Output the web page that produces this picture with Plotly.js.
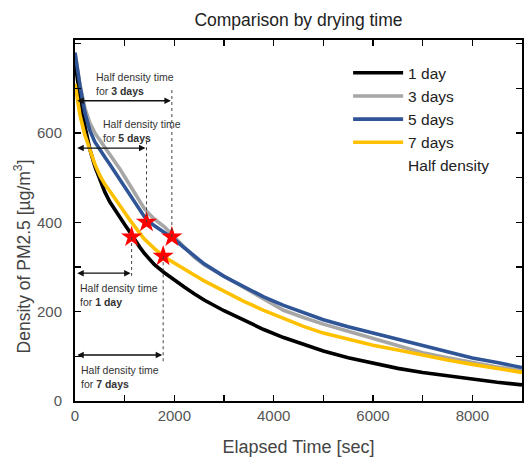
<!DOCTYPE html>
<html>
<head>
<meta charset="utf-8">
<script src="https://cdn.plot.ly/plotly-3.0.1.min.js"></script>
<style>html,body{margin:0;padding:0;background:#fff;}#chart{width:525px;height:457px;}</style>
</head>
<body>
<div id="chart"></div>
<script>
// Elapsed time [sec] sample points
var times = [0, 100, 200, 300, 400, 500, 600, 700, 800, 900, 1000, 1100, 1200, 1300, 1400, 1500, 1600, 1800, 2000, 2200, 2400, 2600, 3000, 3400, 3800, 4200, 4600, 5000, 5500, 6000, 6500, 7000, 7500, 8000, 8500, 9000];

// PM2.5 density [ug/m3] per drying time
var day1  = [760, 680, 615, 563, 525, 494, 468, 446, 428, 411, 395, 379, 361, 345, 330, 316, 305, 287, 270, 255, 240, 226, 202, 180, 160, 142, 126, 112, 97, 84, 73, 64, 56, 48, 42, 36];
var days3 = [778, 708, 655, 622, 600, 584, 569, 554, 538, 520, 502, 484, 466, 447, 430, 418, 407, 390, 367, 344, 322, 305, 279, 253, 228, 203, 187, 172, 156, 140, 122, 108, 97, 86, 76, 68];
var days5 = [780, 705, 645, 605, 580, 562, 546, 530, 513, 496, 478, 461, 444, 427, 412, 401, 392, 377, 362, 343, 324, 307, 279, 255, 233, 214, 198, 182, 166, 152, 137, 123, 109, 96, 86, 75];
var days7 = [710, 640, 595, 560, 530, 505, 485, 470, 455, 438, 422, 406, 390, 376, 362, 351, 341, 322, 308, 295, 282, 269, 245, 223, 203, 184, 167, 152, 138, 125, 114, 102, 92, 82, 73, 64];

// Half density points
var halfLabels = ['1 day', '3 days', '5 days', '7 days'];
var halfTimes  = [1140, 1950, 1440, 1775];
var halfValues = [367, 367, 400, 324];

var seriesNames  = ['1 day', '3 days', '5 days', '7 days'];
var seriesValues = [day1, days3, days5, days7];
var seriesColors = ['#000000', '#a6a6a6', '#2f5597', '#ffc000'];
var drawOrder    = [1, 0, 3, 2];   // gray, black, yellow, blue (blue on top)

var FONT = 'Liberation Sans, Arial, sans-serif';

var traces = [];
drawOrder.forEach(function (i) {
  traces.push({
    type: 'scatter', mode: 'lines', name: seriesNames[i], legendrank: i + 1,
    x: times, y: seriesValues[i],
    line: {color: seriesColors[i], width: 3.6}
  });
});
traces.push({
  type: 'scatter', mode: 'markers', name: 'Half density', showlegend: false,
  x: halfTimes, y: halfValues, text: halfLabels,
  marker: {symbol: 'star', size: 16, color: '#ff0000', line: {width: 0}}
});
// legend-only entry (no visible symbol, as in the reference)
traces.push({
  type: 'scatter', mode: 'lines', name: 'Half density', legendrank: 5,
  x: [null], y: [null], line: {color: 'rgba(0,0,0,0)', width: 3}
});

// annotation layout (positions of arrows / dotted guides / notes)
var arrowLevel = [286, 672, 566, 103];
var guideEnd   = [280, 700, 580, 88];
var noteX      = [70, 390, 530, 90];
var noteY      = [270, 742, 637, 88];

var shapes = [], annotations = [];
for (var k = 0; k < halfTimes.length; k++) {
  shapes.push({
    type: 'line', xref: 'x', yref: 'y',
    x0: halfTimes[k], x1: halfTimes[k], y0: halfValues[k], y1: guideEnd[k],
    line: {color: '#444', width: 1, dash: 'dot'}
  });
  annotations.push({
    xref: 'x', yref: 'y', axref: 'x', ayref: 'y',
    x: halfTimes[k] - 20, y: arrowLevel[k], ax: 15, ay: arrowLevel[k],
    text: '', showarrow: true, arrowside: 'end+start',
    arrowhead: 2, arrowsize: 1, arrowwidth: 1.3, arrowcolor: '#111',
    standoff: 0, startstandoff: 0
  });
  annotations.push({
    xref: 'x', yref: 'y', x: noteX[k], y: noteY[k],
    xanchor: 'left', yanchor: 'top', align: 'left', showarrow: false,
    text: 'Half density time<br>for <b>' + halfLabels[k] + '</b>',
    font: {family: FONT, size: 10.5, color: '#333'}
  });
}
annotations.push({
  xref: 'paper', yref: 'paper', x: -0.119, y: 0.40,
  xanchor: 'center', yanchor: 'middle', textangle: -90, showarrow: false,
  text: 'Density of PM2.5 [\u00b5g/m<sup>3</sup>]',
  font: {family: FONT, size: 17.5, color: '#444'}
});

var axisCommon = {
  showline: true, linecolor: '#000', linewidth: 2, mirror: 'ticks',
  ticks: 'inside', ticklen: 6, tickwidth: 1.5, tickcolor: '#000',
  showgrid: false, zeroline: false,
  tickfont: {family: FONT, size: 15, color: '#555'}
};

var layout = {
  width: 525, height: 457,
  margin: {l: 75, r: 3, t: 40, b: 56},
  paper_bgcolor: '#fff', plot_bgcolor: '#fff',
  font: {family: FONT},
  title: {text: 'Comparison by drying time', x: 0.5, xref: 'paper',
          y: 0.956, yref: 'container', yanchor: 'middle',
          font: {family: FONT, size: 17.5, color: '#222'}},
  xaxis: Object.assign({}, axisCommon, {
    range: [0, 9000], dtick: 2000, tick0: 0,
    minor: {dtick: 1000, ticks: 'inside', ticklen: 6, tickwidth: 1.5, tickcolor: '#000'},
    title: {text: 'Elapsed Time [sec]', standoff: 18, font: {family: FONT, size: 18, color: '#444'}}
  }),
  yaxis: Object.assign({}, axisCommon, {
    range: [0, 808], tickmode: 'array', tickvals: [0, 200, 400, 600], ticklabelstandoff: 8,
    minor: {tickmode: 'linear', tick0: 0, dtick: 100, ticks: 'inside', ticklen: 6, tickwidth: 1.5, tickcolor: '#000'}
  }),
  legend: {x: 0.611, y: 0.955, xanchor: 'left', yanchor: 'top', bgcolor: 'rgba(0,0,0,0)',
           font: {family: FONT, size: 15.5, color: '#222'}, tracegroupgap: 0, itemwidth: 50},
  shapes: shapes,
  annotations: annotations,
  showlegend: true
};

Plotly.newPlot('chart', traces, layout, {displayModeBar: false, staticPlot: true});
</script>
</body>
</html>
